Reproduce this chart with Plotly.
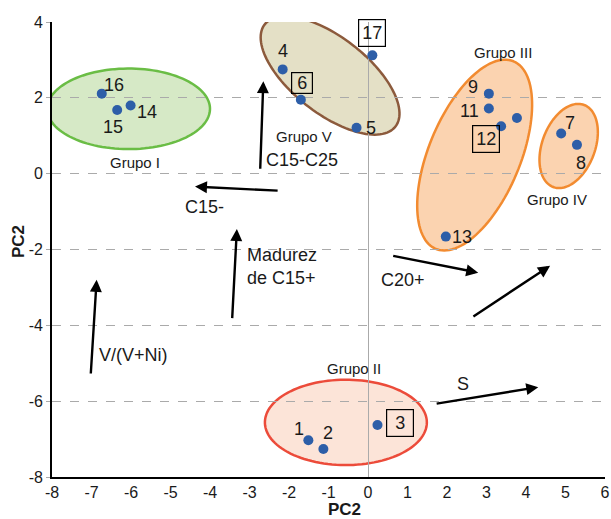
import numpy as np
import plotly.graph_objects as go

# ---------------- data ----------------
sample_ids = ["1", "2", "3", "4", "5", "6", "7", "8", "9", "10",
              "11", "12", "13", "14", "15", "16", "17"]
score_x = [-1.51, -1.13, 0.24, -2.16, -0.29, -1.70, 4.89, 5.29, 3.06, 3.77,
           3.06, 3.37, 1.97, -6.01, -6.35, -6.74, 0.11]
score_y = [-7.03, -7.26, -6.63, 2.75, 1.21, 1.95, 1.06, 0.76, 2.11, 1.47,
           1.72, 1.25, -1.66, 1.80, 1.68, 2.11, 3.12]
shown_labels = ["1", "2", "3", "4", "5", "6", "7", "8", "9", "",
                "11", "12", "13", "14", "15", "16", "17"]
boxed_ids = ["3", "6", "12", "17"]

group_names = ["Grupo I", "Grupo II", "Grupo III", "Grupo IV", "Grupo V"]
group_cx = [-6.06, -0.56, 2.70, 5.08, -0.96]
group_cy = [1.71, -6.56, 0.49, 0.73, 2.59]
group_a = [2.06, 2.05, 2.57, 1.11, 2.10]
group_b = [1.02, 1.08, 1.16, 0.67, 0.96]
group_angle = [0.0, 0.0, 67.5, 69.4, -38.0]

vector_names = ["C15-C25", "C15-", "Madurez<br>de C15+", "V/(V+Ni)", "C20+", "", "S"]
vector_x0 = [-2.73, -2.25, -3.44, -7.02, 0.60, 2.63, 1.70]
vector_y0 = [0.09, -0.45, -3.85, -5.31, -2.16, -3.79, -6.07]
vector_x1 = [-2.65, -4.38, -3.32, -6.87, 2.79, 4.61, 4.31]
vector_y1 = [2.44, -0.34, -1.46, -2.80, -2.61, -2.43, -5.63]

x_ticks = list(range(-8, 7))
y_ticks = list(range(-8, 5, 2))

# ---------------- layout / style ----------------
W, H = 611, 519
ML, MR, MT, MB = 52, 6, 22, 42
XR, YR = (-8, 6), (-8, 4)
FONT = "Liberation Sans"
TXT = "#1a1a1a"
PW, PH = W - ML - MR, H - MT - MB

label_shift = {"1": (-9, 11), "2": (5, 16), "3": (23, 2), "4": (0, 18), "5": (14, 0),
               "6": (1, 17), "7": (9, 10), "8": (4, -18), "9": (-16, 7),
               "11": (-19, -3), "12": (-15, -13), "13": (16, 0), "14": (16, -7),
               "15": (-4, -17), "16": (12, 9), "17": (0, 22)}
box_size = {"3": (28, 28), "6": (22, 22), "12": (28, 28), "17": (28, 28)}

group_fill = ["#d6e9c6", "#fce4d8", "#fbd3b0", "#fbd3b0", "#e4e0c6"]
group_line = ["#6abd45", "#ec4b3a", "#f28b30", "#f28b30", "#8c5a3c"]
group_label_pos = [(-5.90, 0.29), (-0.35, -5.15), (3.41, 3.20), (4.78, -0.69), (-1.63, 0.98)]
vector_label_pos = [(-1.66, 0.37, "center"), (-4.15, -0.87, "center"), (-3.11, -2.44, "left"),
                    (-5.94, -4.78, "center"), (0.89, -2.80, "center"), (0, 0, "center"),
                    (2.41, -5.54, "center")]

# pixel aspect (x px per unit / y px per unit) so ellipses keep their screen shape
px_x = PW / (XR[1] - XR[0])
px_y = PH / (YR[1] - YR[0])
k = px_x / px_y


def ellipse_path(cx, cy, a, b, ang):
    t = np.linspace(0, 2 * np.pi, 120)
    th = np.deg2rad(ang)
    u, v = a * np.cos(t), b * np.sin(t)
    xs = cx + u * np.cos(th) - v * np.sin(th)
    ys = cy + (u * np.sin(th) + v * np.cos(th)) * k
    return "M " + " L ".join(f"{x:.4f},{y:.4f}" for x, y in zip(xs, ys)) + " Z"


fig = go.Figure()

shapes = []
for i in range(len(group_names)):
    shapes.append(dict(type="path", xref="x", yref="y", layer="below",
                       path=ellipse_path(group_cx[i], group_cy[i], group_a[i], group_b[i], group_angle[i]),
                       fillcolor=group_fill[i], line=dict(color=group_line[i], width=2.5)))

fig.add_trace(go.Scatter(x=score_x, y=score_y, mode="markers",
                         marker=dict(size=10, color="#2d5ea8"),
                         hoverinfo="text", text=sample_ids, showlegend=False))

ann = []
for sid, lab, x, y in zip(sample_ids, shown_labels, score_x, score_y):
    if not lab:
        continue
    dx, dy = label_shift[lab]
    a = dict(x=x, y=y, xref="x", yref="y", text=lab, showarrow=False,
             xshift=dx, yshift=dy, font=dict(family=FONT, size=18, color=TXT))
    if lab in boxed_ids:
        bw, bh = box_size[lab]
        a.update(bordercolor="black", borderwidth=1.2, borderpad=0, width=bw - 2, height=bh - 2)
    ann.append(a)

for name, (gx, gy) in zip(group_names, group_label_pos):
    ann.append(dict(x=gx, y=gy, xref="x", yref="y", text=name, showarrow=False,
                    font=dict(family=FONT, size=15, color=TXT)))

for i, name in enumerate(vector_names):
    ann.append(dict(x=vector_x1[i], y=vector_y1[i], ax=vector_x0[i], ay=vector_y0[i],
                    xref="x", yref="y", axref="x", ayref="y", text="", showarrow=True,
                    arrowhead=2, arrowsize=1, arrowwidth=2.4, arrowcolor="black", standoff=0))
    if name:
        lx, ly, anc = vector_label_pos[i]
        ann.append(dict(x=lx, y=ly, xref="x", yref="y", text=name, showarrow=False,
                        xanchor=anc, align="left", font=dict(family=FONT, size=18, color=TXT)))

# axis titles (placed in paper coordinates)
ann.append(dict(x=(344 - ML) / PW, y=-(509 - (H - MB)) / PH, xref="paper", yref="paper",
                xanchor="center", yanchor="middle", text="<b>PC2</b>", showarrow=False,
                font=dict(family=FONT, size=17, color=TXT)))
ann.append(dict(x=-(ML - 19) / PW, y=(H - MB - 242) / PH, xref="paper", yref="paper",
                xanchor="center", yanchor="middle",
                text="<b>PC2</b>", textangle=-90, showarrow=False,
                font=dict(family=FONT, size=17, color=TXT)))

fig.update_layout(
    width=W, height=H, margin=dict(l=ML, r=MR, t=MT, b=MB, autoexpand=False),
    plot_bgcolor="white", paper_bgcolor="white",
    shapes=shapes, annotations=ann, showlegend=False,
    font=dict(family=FONT, color=TXT),
)
fig.update_xaxes(range=list(XR), tickvals=x_ticks, ticktext=[str(v) for v in x_ticks],
                 showgrid=False, zeroline=True, zerolinecolor="#aaaaaa", zerolinewidth=1.2,
                 showline=True, linecolor="black", linewidth=1.8, ticks="", automargin=False,
                 tickfont=dict(family=FONT, size=16, color=TXT))
fig.update_yaxes(range=list(YR), tickvals=y_ticks, ticktext=[str(v) for v in y_ticks],
                 showgrid=True, gridcolor="#aaaaaa", griddash="dash", gridwidth=1.2,
                 zeroline=False, showline=True, linecolor="black", linewidth=1.8,
                 ticks="outside", ticklen=4, tickcolor="#aaaaaa", automargin=False,
                 tickfont=dict(family=FONT, size=16, color=TXT))

fig.write_html("out.html", config={"displayModeBar": False},
               post_script="document.body.style.margin='0';document.body.style.overflow='hidden';")
